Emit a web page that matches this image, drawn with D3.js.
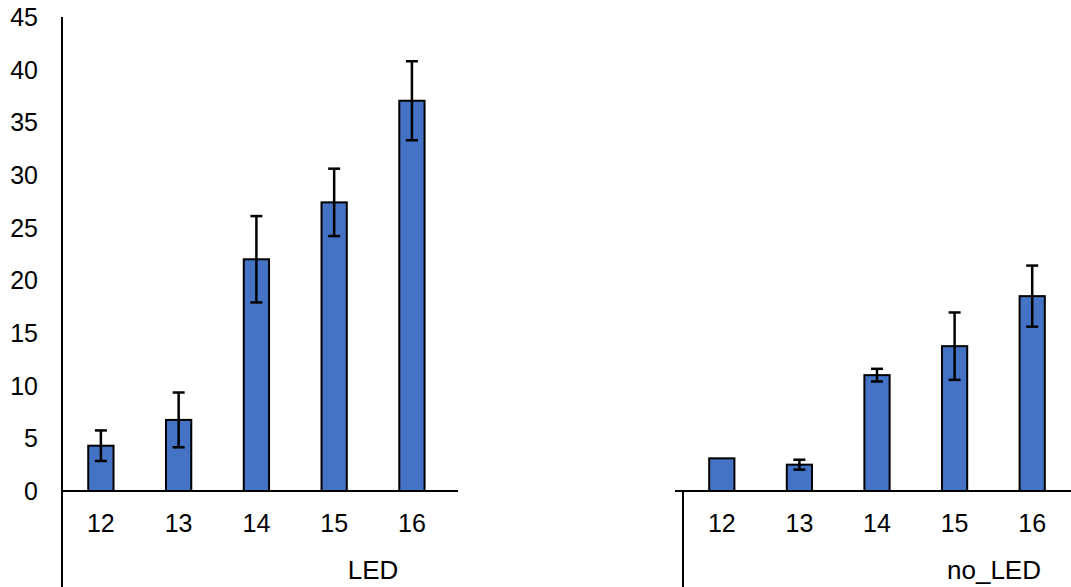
<!DOCTYPE html>
<html>
<head>
<meta charset="utf-8">
<title>LED vs no_LED</title>
<script src="https://cdnjs.cloudflare.com/ajax/libs/d3/7.8.5/d3.min.js"></script>
<style>
  body { margin: 0; background: #fff; }
  svg { display: block; }
  text { font-family: Arial, "Liberation Sans", sans-serif; fill: #000; }
</style>
</head>
<body>
<div id="chart"></div>
<script>
// data
var categories = ["12", "13", "14", "15", "16"];
var groups = ["LED", "no_LED"];
var ledMeans = [4.3, 6.75, 22.0, 27.4, 37.05];
var ledErr = [1.45, 2.6, 4.1, 3.2, 3.75];
var noLedMeans = [3.1, 2.5, 11.0, 13.75, 18.5];
var noLedErr = [0, 0.47, 0.6, 3.2, 2.9];
var yTicks = [0, 5, 10, 15, 20, 25, 30, 35, 40, 45];

var width = 1071, height = 587;
var svg = d3.select("#chart").append("svg")
  .attr("width", width)
  .attr("height", height);

var y = d3.scaleLinear().domain([0, 45]).range([491, 17]);

// panels: band range, where the axis line starts/ends, group label spot
var panels = [
  {name: groups[0], means: ledMeans, err: ledErr, x0: 62, x1: 450.8, axisStart: 62, axisEnd: 458, labelX: 373},
  {name: groups[1], means: noLedMeans, err: noLedErr, x0: 683, x1: 1071, axisStart: 675, axisEnd: 1071, labelX: 994}
];

// y axis labels (no tick marks)
svg.append("g").selectAll("text")
  .data(yTicks)
  .enter().append("text")
  .attr("x", 38)
  .attr("y", function(d){ return y(d); })
  .attr("dy", "0.36em")
  .attr("text-anchor", "end")
  .style("font-size", "25px")
  .text(function(d){ return d; });

// y axis line
svg.append("line")
  .attr("x1", 62).attr("x2", 62)
  .attr("y1", y(45)).attr("y2", height)
  .attr("stroke", "#000").attr("stroke-width", 2);

panels.forEach(function(p){
  var x = d3.scaleBand().domain(categories).range([p.x0, p.x1]).padding(0);
  var bw = x.bandwidth() * 0.325;
  var g = svg.append("g");
  var rows = categories.map(function(c, i){ return {cat: c, v: p.means[i], e: p.err[i]}; });

  g.selectAll("rect")
    .data(rows)
    .enter().append("rect")
    .attr("x", function(d){ return x(d.cat) + x.bandwidth()/2 - bw/2; })
    .attr("y", function(d){ return y(d.v); })
    .attr("width", bw)
    .attr("height", function(d){ return y(0) - y(d.v); })
    .attr("fill", "#4472C4")
    .attr("stroke", "#000")
    .attr("stroke-width", 2);

  // error bars
  var eb = g.selectAll(".err")
    .data(rows.filter(function(d){ return d.e > 0; }))
    .enter().append("g").attr("class", "err")
    .attr("stroke", "#000").attr("stroke-width", 2.5);
  eb.append("line")
    .attr("x1", function(d){ return x(d.cat) + x.bandwidth()/2; })
    .attr("x2", function(d){ return x(d.cat) + x.bandwidth()/2; })
    .attr("y1", function(d){ return y(d.v + d.e); })
    .attr("y2", function(d){ return y(d.v - d.e); });
  [1, -1].forEach(function(s){
    eb.append("line")
      .attr("x1", function(d){ return x(d.cat) + x.bandwidth()/2 - 6; })
      .attr("x2", function(d){ return x(d.cat) + x.bandwidth()/2 + 6; })
      .attr("y1", function(d){ return y(d.v + s*d.e); })
      .attr("y2", function(d){ return y(d.v + s*d.e); });
  });

  // x axis line
  g.append("line")
    .attr("x1", p.axisStart).attr("x2", p.axisEnd)
    .attr("y1", y(0)).attr("y2", y(0))
    .attr("stroke", "#000").attr("stroke-width", 2);

  // group divider
  g.append("line")
    .attr("x1", p.x0).attr("x2", p.x0)
    .attr("y1", y(0)).attr("y2", height)
    .attr("stroke", "#000").attr("stroke-width", 2);

  // category labels
  g.selectAll(".cat")
    .data(categories)
    .enter().append("text").attr("class", "cat")
    .attr("x", function(d){ return x(d) + x.bandwidth()/2; })
    .attr("y", 532)
    .attr("text-anchor", "middle")
    .style("font-size", "25px")
    .text(function(d){ return d; });

  // group label
  g.append("text")
    .attr("x", p.labelX)
    .attr("y", 579)
    .attr("text-anchor", "middle")
    .style("font-size", "26px")
    .text(p.name);
});
</script>
</body>
</html>
